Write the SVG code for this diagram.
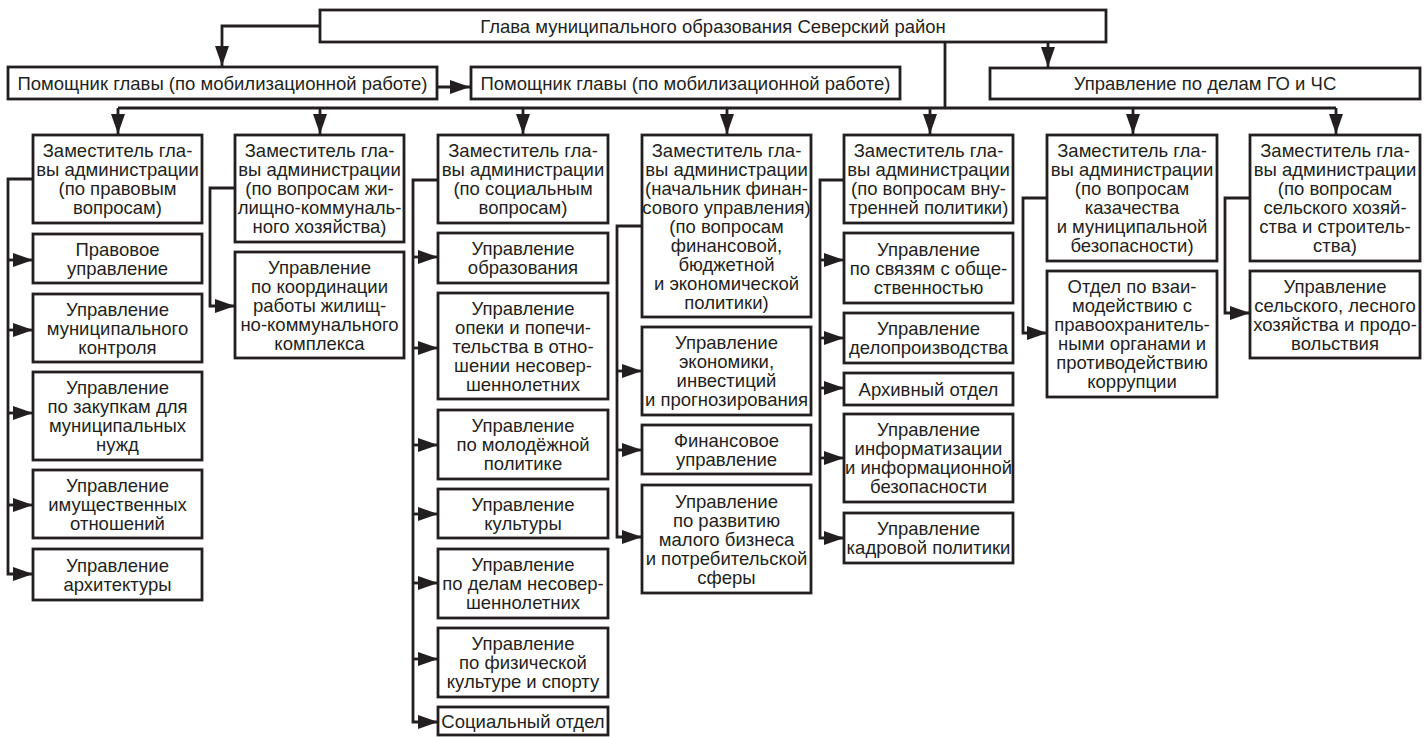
<svg xmlns="http://www.w3.org/2000/svg" width="1426" height="737" viewBox="0 0 1426 737">
<defs>
<marker id="ah" viewBox="0 0 20 14" refX="20" refY="7" markerWidth="20" markerHeight="14" markerUnits="userSpaceOnUse" orient="auto">
<path d="M0,0 L20,7 L0,14 z" fill="#231f20"/>
</marker>
<style>
rect{fill:#fff;stroke:#231f20;stroke-width:2.8}
text{font-family:"Liberation Sans",Arial,sans-serif;font-size:18.5px;fill:#231f20;text-anchor:middle}
#connectors path{fill:none;stroke:#231f20;stroke-width:2.8}
.a{marker-end:url(#ah)}
</style>
</defs>
<rect x="0" y="0" width="1426" height="737" style="fill:#fff;stroke:none"/>
<g id="connectors">
<path class="a" d="M320,26 H222 V66"/>
<path class="a" d="M437,87 H470"/>
<path class="a" d="M1048,42 V67"/>
<path d="M945,42 V108 M118,108 H1336"/>
<path class="a" d="M118,108 V134"/>
<path class="a" d="M320,108 V134"/>
<path class="a" d="M523,108 V134"/>
<path class="a" d="M727,108 V134"/>
<path class="a" d="M930,108 V134"/>
<path class="a" d="M1133,108 V134"/>
<path class="a" d="M1336,108 V134"/>
<path class="a" d="M33,179 H8 V574 H33"/>
<path class="a" d="M8,260 H33"/>
<path class="a" d="M8,330 H33"/>
<path class="a" d="M8,413 H33"/>
<path class="a" d="M8,505 H33"/>
<path class="a" d="M235,188 H210 V306 H235"/>
<path class="a" d="M438,180 H413 V722 H438"/>
<path class="a" d="M413,257 H438"/>
<path class="a" d="M413,348 H438"/>
<path class="a" d="M413,445 H438"/>
<path class="a" d="M413,514 H438"/>
<path class="a" d="M413,583 H438"/>
<path class="a" d="M413,659 H438"/>
<path class="a" d="M642,226 H617 V537 H642"/>
<path class="a" d="M617,371 H642"/>
<path class="a" d="M617,450 H642"/>
<path class="a" d="M844,180 H820 V538 H844"/>
<path class="a" d="M820,260 H844"/>
<path class="a" d="M820,338 H844"/>
<path class="a" d="M820,388 H844"/>
<path class="a" d="M820,458 H844"/>
<path class="a" d="M1047,198 H1023 V333 H1047"/>
<path class="a" d="M1250,198 H1225 V313 H1250"/>
</g>
<g id="head"><rect x="320" y="10" width="786" height="32"/><text x="713" y="32.5">Глава муниципального образования Северский район</text></g>
<g id="asst1"><rect x="8" y="67" width="429" height="32"/><text x="222.5" y="89.5">Помощник главы (по мобилизационной работе)</text></g>
<g id="asst2"><rect x="471" y="67" width="429" height="32"/><text x="685.5" y="89.5">Помощник главы (по мобилизационной работе)</text></g>
<g id="gochs"><rect x="990" y="68" width="430" height="31"/><text x="1205" y="90">Управление по делам ГО и ЧС</text></g>

<g id="dep1"><rect x="33" y="135" width="169" height="88"/><text y="157"><tspan x="117.5">Заместитель гла-</tspan><tspan x="117.5" dy="19">вы администрации</tspan><tspan x="117.5" dy="19">(по правовым</tspan><tspan x="117.5" dy="19">вопросам)</tspan></text></g>
<g id="n1a"><rect x="33" y="234" width="169" height="49"/><text y="255.5"><tspan x="117.5">Правовое</tspan><tspan x="117.5" dy="19">управление</tspan></text></g>
<g id="n1b"><rect x="33" y="294" width="169" height="68"/><text y="315.5"><tspan x="117.5">Управление</tspan><tspan x="117.5" dy="19">муниципального</tspan><tspan x="117.5" dy="19">контроля</tspan></text></g>
<g id="n1c"><rect x="33" y="372" width="169" height="88"/><text y="394"><tspan x="117.5">Управление</tspan><tspan x="117.5" dy="19">по закупкам для</tspan><tspan x="117.5" dy="19">муниципальных</tspan><tspan x="117.5" dy="19">нужд</tspan></text></g>
<g id="n1d"><rect x="33" y="470" width="169" height="68"/><text y="491.5"><tspan x="117.5">Управление</tspan><tspan x="117.5" dy="19">имущественных</tspan><tspan x="117.5" dy="19">отношений</tspan></text></g>
<g id="n1e"><rect x="33" y="549" width="169" height="51"/><text y="571.5"><tspan x="117.5">Управление</tspan><tspan x="117.5" dy="19">архитектуры</tspan></text></g>

<g id="dep2"><rect x="235" y="135" width="169" height="107"/><text y="157"><tspan x="319.5">Заместитель гла-</tspan><tspan x="319.5" dy="19">вы администрации</tspan><tspan x="319.5" dy="19">(по вопросам жи-</tspan><tspan x="319.5" dy="19">лищно-коммуналь-</tspan><tspan x="319.5" dy="19">ного хозяйства)</tspan></text></g>
<g id="n2a"><rect x="235" y="252" width="169" height="106"/><text y="273.5"><tspan x="319.5">Управление</tspan><tspan x="319.5" dy="19">по координации</tspan><tspan x="319.5" dy="19">работы жилищ-</tspan><tspan x="319.5" dy="19">но-коммунального</tspan><tspan x="319.5" dy="19">комплекса</tspan></text></g>

<g id="dep3"><rect x="438" y="135" width="170" height="88"/><text y="157"><tspan x="523">Заместитель гла-</tspan><tspan x="523" dy="19">вы администрации</tspan><tspan x="523" dy="19">(по социальным</tspan><tspan x="523" dy="19">вопросам)</tspan></text></g>
<g id="n3a"><rect x="438" y="233" width="170" height="50"/><text y="255"><tspan x="523">Управление</tspan><tspan x="523" dy="19">образования</tspan></text></g>
<g id="n3b"><rect x="438" y="293" width="170" height="106"/><text y="314.5"><tspan x="523">Управление</tspan><tspan x="523" dy="19">опеки и попечи-</tspan><tspan x="523" dy="19">тельства в отно-</tspan><tspan x="523" dy="19">шении несовер-</tspan><tspan x="523" dy="19">шеннолетних</tspan></text></g>
<g id="n3c"><rect x="438" y="410" width="170" height="69"/><text y="432"><tspan x="523">Управление</tspan><tspan x="523" dy="19">по молодёжной</tspan><tspan x="523" dy="19">политике</tspan></text></g>
<g id="n3d"><rect x="438" y="489" width="170" height="49"/><text y="510.5"><tspan x="523">Управление</tspan><tspan x="523" dy="19">культуры</tspan></text></g>
<g id="n3e"><rect x="438" y="549" width="170" height="69"/><text y="571"><tspan x="523">Управление</tspan><tspan x="523" dy="19">по делам несовер-</tspan><tspan x="523" dy="19">шеннолетних</tspan></text></g>
<g id="n3f"><rect x="438" y="628" width="170" height="69"/><text y="650"><tspan x="523">Управление</tspan><tspan x="523" dy="19">по физической</tspan><tspan x="523" dy="19">культуре и спорту</tspan></text></g>
<g id="n3g"><rect x="438" y="707" width="170" height="28"/><text x="523" y="727.5">Социальный отдел</text></g>

<g id="dep4"><rect x="642" y="135" width="169" height="182"/><text y="156.5"><tspan x="726.5">Заместитель гла-</tspan><tspan x="726.5" dy="19">вы администрации</tspan><tspan x="726.5" dy="19">(начальник финан-</tspan><tspan x="726.5" dy="19">сового управления)</tspan><tspan x="726.5" dy="19">(по вопросам</tspan><tspan x="726.5" dy="19">финансовой,</tspan><tspan x="726.5" dy="19">бюджетной</tspan><tspan x="726.5" dy="19">и экономической</tspan><tspan x="726.5" dy="19">политики)</tspan></text></g>
<g id="n4a"><rect x="642" y="327" width="169" height="88"/><text y="349"><tspan x="726.5">Управление</tspan><tspan x="726.5" dy="19">экономики,</tspan><tspan x="726.5" dy="19">инвестиций</tspan><tspan x="726.5" dy="19">и прогнозирования</tspan></text></g>
<g id="n4b"><rect x="642" y="425" width="169" height="49"/><text y="446.5"><tspan x="726.5">Финансовое</tspan><tspan x="726.5" dy="19">управление</tspan></text></g>
<g id="n4c"><rect x="642" y="485" width="169" height="108"/><text y="507.5"><tspan x="726.5">Управление</tspan><tspan x="726.5" dy="19">по развитию</tspan><tspan x="726.5" dy="19">малого бизнеса</tspan><tspan x="726.5" dy="19">и потребительской</tspan><tspan x="726.5" dy="19">сферы</tspan></text></g>

<g id="dep5"><rect x="844" y="135" width="169" height="88"/><text y="157"><tspan x="928.5">Заместитель гла-</tspan><tspan x="928.5" dy="19">вы администрации</tspan><tspan x="928.5" dy="19">(по вопросам вну-</tspan><tspan x="928.5" dy="19">тренней политики)</tspan></text></g>
<g id="n5a"><rect x="844" y="233" width="169" height="70"/><text y="255.5"><tspan x="928.5">Управление</tspan><tspan x="928.5" dy="19">по связям с обще-</tspan><tspan x="928.5" dy="19">ственностью</tspan></text></g>
<g id="n5b"><rect x="844" y="313" width="169" height="50"/><text y="335"><tspan x="928.5">Управление</tspan><tspan x="928.5" dy="19">делопроизводства</tspan></text></g>
<g id="n5c"><rect x="844" y="373" width="169" height="32"/><text x="928.5" y="395.5">Архивный отдел</text></g>
<g id="n5d"><rect x="844" y="414" width="169" height="88"/><text y="436"><tspan x="928.5">Управление</tspan><tspan x="928.5" dy="19">информатизации</tspan><tspan x="928.5" dy="19">и информационной</tspan><tspan x="928.5" dy="19">безопасности</tspan></text></g>
<g id="n5e"><rect x="844" y="513" width="169" height="50"/><text y="535"><tspan x="928.5">Управление</tspan><tspan x="928.5" dy="19">кадровой политики</tspan></text></g>

<g id="dep6"><rect x="1047" y="135" width="170" height="126"/><text y="157"><tspan x="1132">Заместитель гла-</tspan><tspan x="1132" dy="19">вы администрации</tspan><tspan x="1132" dy="19">(по вопросам</tspan><tspan x="1132" dy="19">казачества</tspan><tspan x="1132" dy="19">и муниципальной</tspan><tspan x="1132" dy="19">безопасности)</tspan></text></g>
<g id="n6a"><rect x="1047" y="271" width="170" height="126"/><text y="293"><tspan x="1132">Отдел по взаи-</tspan><tspan x="1132" dy="19">модействию с</tspan><tspan x="1132" dy="19">правоохранитель-</tspan><tspan x="1132" dy="19">ными органами и</tspan><tspan x="1132" dy="19">противодействию</tspan><tspan x="1132" dy="19">коррупции</tspan></text></g>

<g id="dep7"><rect x="1250" y="135" width="170" height="126"/><text y="157"><tspan x="1335">Заместитель гла-</tspan><tspan x="1335" dy="19">вы администрации</tspan><tspan x="1335" dy="19">(по вопросам</tspan><tspan x="1335" dy="19">сельского хозяй-</tspan><tspan x="1335" dy="19">ства и строитель-</tspan><tspan x="1335" dy="19">ства)</tspan></text></g>
<g id="n7a"><rect x="1250" y="271" width="170" height="87"/><text y="292.5"><tspan x="1335">Управление</tspan><tspan x="1335" dy="19">сельского, лесного</tspan><tspan x="1335" dy="19">хозяйства и продо-</tspan><tspan x="1335" dy="19">вольствия</tspan></text></g>
</svg>
